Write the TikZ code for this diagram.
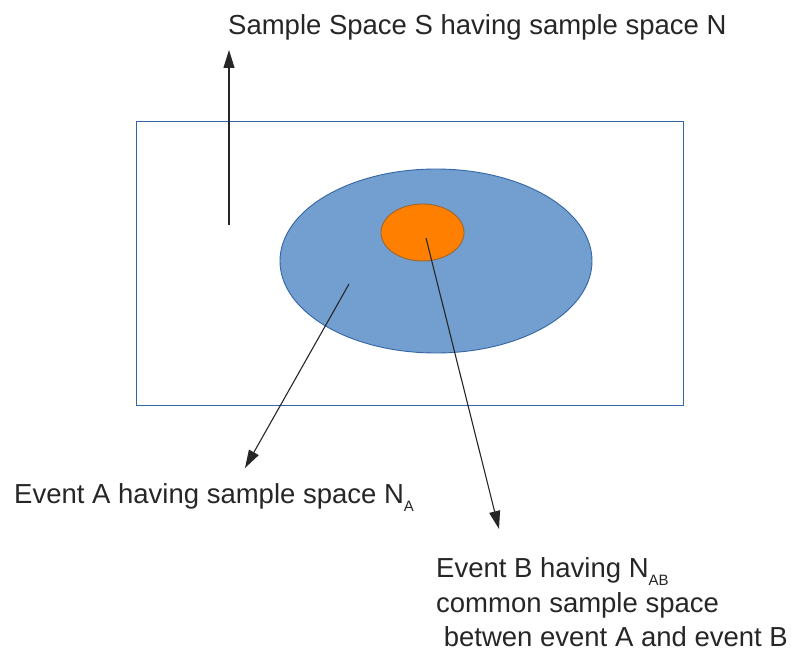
\documentclass[tikz,border=0pt]{standalone}
\usepackage{fontspec}
\setmainfont{Liberation Sans}
\usetikzlibrary{arrows.meta,shapes.geometric}
\definecolor{boxblue}{HTML}{3465A4}
\definecolor{bigfill}{HTML}{729FCF}
\definecolor{orangefill}{HTML}{FF8000}
\definecolor{orangeline}{HTML}{996633}
\tikzset{
  lbl/.style={anchor=base west, inner sep=0pt, font=\fontsize{27.5}{32}\selectfont, text=black!85},
  arr/.style={draw=black!85, line width=1.1pt, -{Triangle[length=18pt,width=11pt]}}
}
\newcommand{\subtxt}[1]{\raisebox{-8pt}{\fontsize{15}{15}\selectfont #1}}
\begin{document}
\begin{tikzpicture}[x=1pt,y=-1pt]
\useasboundingbox (0,0) rectangle (792,655);
\node[draw=boxblue, line width=0.9pt, minimum width=547pt, minimum height=284pt, inner sep=0pt] (space) at (409.5,263) {};
\node[ellipse, draw=boxblue, fill=bigfill, line width=0.9pt, minimum width=312pt, minimum height=184pt, inner sep=0pt] (A) at (436,261) {};
\node[ellipse, draw=orangeline, fill=orangefill, line width=0.9pt, minimum width=83pt, minimum height=57pt, inner sep=0pt] (B) at (422.5,232.5) {};
\node[lbl] (ts) at (228,35) {Sample Space S having sample space N};
\node[lbl] (ta) at (14,503) {Event A having sample space N\subtxt{A}};
\node[lbl] (tb1) at (436,577) {Event B having N\subtxt{AB}};
\node[lbl] (tb2) at (436,612) {common sample space};
\node[lbl] (tb3) at (436,646) {\ betwen event A and event B};
\coordinate (s0) at (229,225);
\coordinate (s1) at (229,50);
\coordinate (a0) at (349,284);
\coordinate (a1) at (245,468);
\coordinate (b0) at (426,238);
\coordinate (b1) at (499,529);
\draw[arr] (s0) -- (s1);
\draw[arr] (a0) -- (a1);
\draw[arr] (b0) -- (b1);
\end{tikzpicture}
\end{document}
